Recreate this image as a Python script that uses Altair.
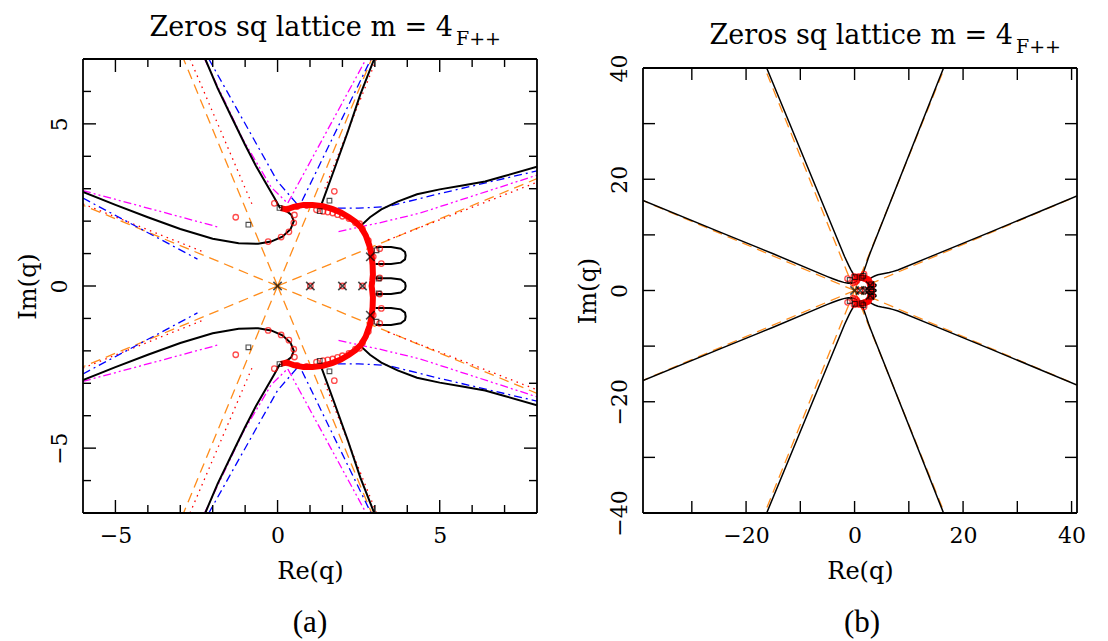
import altair as alt
import pandas as pd

FONT = "DejaVu Serif"

# ---------------- panel (a) data: curves ----------------
# exact limiting curves (black)
EX_TL_X = [-2.23, -1.85, -1.39, -1.00, -0.67, -0.35, -0.10, 0.08]
EX_TL_YU = [7.0, 6.1, 5.15, 4.35, 3.71, 3.15, 2.72, 2.40]
EX_TL_YL = [-7.0, -6.1, -5.15, -4.35, -3.71, -3.15, -2.72, -2.40]
EX_L_X = [-6.0, -5.0, -4.0, -3.0, -2.0, -1.2, -0.6, -0.2, 0.15, 0.40, 0.50, 0.42, 0.25]
EX_L_YU = [2.90, 2.50, 2.12, 1.76, 1.46, 1.32, 1.30, 1.37, 1.52, 1.75, 2.00, 2.20, 2.33]
EX_L_YL = [-2.90, -2.50, -2.12, -1.76, -1.46, -1.32, -1.30, -1.37, -1.52, -1.75, -2.00, -2.20, -2.33]
EX_TR_X = [2.98, 2.55, 2.16, 1.75, 1.34]
EX_TR_YU = [7.0, 5.9, 4.74, 3.6, 2.48]
EX_TR_YL = [-7.0, -5.9, -4.74, -3.6, -2.48]
EX_R_X = [2.58, 2.85, 3.2, 3.7, 4.3, 5.0, 5.7, 6.4, 7.0, 8.0]
EX_R_YU = [1.87, 2.12, 2.36, 2.6, 2.83, 2.98, 3.1, 3.22, 3.39, 3.68]
EX_R_YL = [-1.87, -2.12, -2.36, -2.6, -2.83, -2.98, -3.1, -3.22, -3.39, -3.68]
FG_X = [3.02, 3.50, 3.80, 3.93, 3.95, 3.93, 3.80, 3.50, 3.02]
FG1_Y = [1.20, 1.20, 1.15, 1.05, 0.94, 0.82, 0.72, 0.68, 0.68]
FG2_Y = [0.24, 0.24, 0.20, 0.10, 0.00, -0.10, -0.20, -0.25, -0.25]
FG3_Y = [-0.68, -0.68, -0.72, -0.82, -0.94, -1.05, -1.15, -1.20, -1.20]

# thick red arc of accumulated zeros
ARC_X = [0.10, 0.27, 0.50, 0.80, 1.08, 1.40, 1.70, 1.95, 2.20, 2.40, 2.58, 2.72, 2.83, 2.90, 2.93, 2.94, 2.92, 2.90,
         2.92, 2.94, 2.93, 2.90, 2.83, 2.72, 2.58, 2.40, 2.20, 1.95, 1.70, 1.40, 1.08, 0.80, 0.50, 0.27, 0.10]
ARC_Y = [2.40, 2.36, 2.44, 2.50, 2.50, 2.46, 2.37, 2.27, 2.12, 1.98, 1.80, 1.56, 1.25, 0.95, 0.65, 0.35, 0.15, 0.00,
         -0.15, -0.35, -0.65, -0.95, -1.25, -1.56, -1.80, -1.98, -2.12, -2.27, -2.37, -2.46, -2.50, -2.50, -2.44, -2.36, -2.40]

# approximations: blue dash-dot
BL_L_X = [-6.0, -2.47]
BL_L_YU = [2.71, 0.83]
BL_L_YL = [-2.71, -0.83]
BL_V_X = [-2.12, 0.0, 0.67, 2.88]
BL_V_YU = [7.0, 3.22, 2.45, 7.0]
BL_V_YL = [-7.0, -3.22, -2.45, -7.0]
BL_R_X = [1.3, 2.5, 3.4, 5.0, 8.0]
BL_R_YU = [2.40, 2.40, 2.45, 2.85, 3.55]
BL_R_YL = [-2.40, -2.40, -2.45, -2.85, -3.55]
# magenta dash-dot-dot
MG_L_X = [-6.0, -1.8]
MG_L_YU = [2.94, 1.81]
MG_L_YL = [-2.94, -1.81]
MG_V_X = [-2.25, -1.08, -0.2, 0.31, 2.73]
MG_V_YU = [7.0, 4.54, 3.05, 2.55, 7.0]
MG_V_YL = [-7.0, -4.54, -3.05, -2.55, -7.0]
MG_R_X = [1.88, 3.15, 4.4, 8.0]
MG_R_YU = [1.68, 1.95, 2.25, 3.42]
MG_R_YL = [-1.68, -1.95, -2.25, -3.42]
# red dotted
RD_L_X = [-6.0, -2.26]
RD_L_YU = [2.53, 1.04]
RD_L_YL = [-2.53, -1.04]
RD_TL_X = [-2.7, -0.77]
RD_TL_YU = [7.0, 2.48]
RD_TL_YL = [-7.0, -2.48]
RD_TR_X = [3.05, 1.44]
RD_TR_YU = [7.0, 2.96]
RD_TR_YL = [-7.0, -2.96]
RD_R_X = [3.4, 8.0]
RD_R_YU = [1.42, 3.2]
RD_R_YL = [-1.42, -3.2]
# orange dashed rays from the origin (end points)
OR_A_X = [-6.0, -2.9, 2.9, 8.0]
OR_A_YU = [2.49, 7.0, 7.0, 3.31]
OR_A_YL = [-2.49, -7.0, -7.0, -3.31]

# markers
RC_X = [-1.29, -0.10, 0.52, 0.50, 0.35, 0.11, -0.29, 1.75, 2.53, 3.15, 3.20, 3.15, 0.30, 0.60, 0.90, 1.20,
        1.40, 1.55, 1.70, 1.85, 2.00, 2.20, 2.40, 2.62, 2.80, 2.90, 2.95]
RC_YU = [2.12, 2.55, 2.19, 1.95, 1.67, 1.51, 1.37, 2.92, 1.92, 1.15, 0.69, 0.25, 2.37, 2.45, 2.48, 2.35,
         2.30, 2.28, 2.25, 2.20, 2.15, 2.08, 1.95, 1.75, 1.40, 1.10, 0.90]
RC_YL = [-2.12, -2.55, -2.19, -1.95, -1.67, -1.51, -1.37, -2.92, -1.92, -1.15, -0.69, -0.25, -2.37, -2.45, -2.48, -2.35,
         -2.30, -2.28, -2.25, -2.20, -2.15, -2.08, -1.95, -1.75, -1.40, -1.10, -0.90]
RC0_X = [1.01, 2.0, 2.62]
RC0_Y = [0.0, 0.0, 0.0]
SQ_X = [-0.90, 0.06, 1.30, 1.60, 3.05, 3.12]
SQ_YU = [1.89, 2.41, 2.31, 2.63, 1.10, 0.23]
SQ_YL = [-1.89, -2.41, -2.31, -2.63, -1.10, -0.23]
CR_X = [0.0, 1.01, 2.0, 2.62, 2.86, 2.86]
CR_Y = [0.0, 0.0, 0.0, 0.0, 0.9, -0.9]

# ---------------- panel (b): far parts of the branches ----------------
B_TL_X = [-16.2]
B_TL_YU = [40.0]
B_TL_YL = [-40.0]
B_TR_X = [16.4]
B_TR_YU = [40.0]
B_TR_YL = [-40.0]
B_L_X = [-39.0, -24.8, -15.0]
B_L_YU = [16.2, 10.5, 6.6]
B_L_YL = [-16.2, -10.5, -6.6]
B_R_X = [14.0, 25.0, 41.0]
B_R_YU = [6.1, 10.5, 17.0]
B_R_YL = [-6.1, -10.5, -17.0]
OR_B_X = [-39.0, -16.57, 16.57, 41.0]
OR_B_YU = [16.15, 40.0, 40.0, 16.98]
OR_B_YL = [-16.15, -40.0, -40.0, -16.98]

# axes extents, ticks and labels
A_XDOM = [-6, 8]
A_YDOM = [-7, 7]
B_XDOM = [-39, 41]
B_YDOM = [-40, 40]
A_TICK_MAJOR = [-5, 0, 5]
A_TICK_MINOR_X = [-4, -3, -2, -1, 1, 2, 3, 4, 6, 7]
A_TICK_MINOR_Y = [-6, -4, -3, -2, -1, 1, 2, 3, 4, 6]
B_TICK_X = [-30, -20, -10, 0, 10, 20, 30, 40]
B_TICK_Y = [-30, -20, -10, 0, 10, 20, 30]
B_LABEL_X = [-20, 0, 20, 40]
B_LABEL_Y = [-40, -20, 0, 20, 40]

TITLE = "Zeros sq lattice m = 4"
SUB = "F++"


def paths(*items):
    rows = []
    for name, xs, ys in items:
        for i, (a, b) in enumerate(zip(xs, ys)):
            rows.append({"id": name, "o": i, "x": a, "y": b})
    return pd.DataFrame(rows)


def rays(xs, yu, yl):
    items = []
    for k, (a, b) in enumerate(zip(xs, yu)):
        items.append((f"u{k}", [0.0, a], [0.0, b]))
    for k, (a, b) in enumerate(zip(xs, yl)):
        items.append((f"l{k}", [0.0, a], [0.0, b]))
    return paths(*items)


def make_xy(xdom, ydom, xvals, yvals, yrange=None):
    X = alt.X("x:Q", scale=alt.Scale(domain=xdom, nice=False, zero=False),
              axis=alt.Axis(values=xvals, title="Re(q)", ticks=False, domain=False, grid=False, tickSize=0,
                            labelFont=FONT, labelFontSize=22, labelPadding=12, labelColor="black",
                            labelFlush=False, labelOverlap=False, labelBaseline="top",
                            titleFont=FONT, titleFontSize=24, titleFontWeight="normal",
                            titleColor="black", titlePadding=13))
    ysc = alt.Scale(domain=ydom, nice=False, zero=False)
    if yrange is not None:
        ysc = alt.Scale(domain=ydom, nice=False, zero=False, range=yrange)
    Y = alt.Y("y:Q", scale=ysc,
              axis=alt.Axis(values=yvals, title="Im(q)", ticks=False, domain=False, grid=False, tickSize=0,
                            labelFont=FONT, labelFontSize=22, labelPadding=12, labelColor="black",
                            labelFlush=False, labelOverlap=False, labelAngle=270,
                            labelAlign="center", labelBaseline="bottom",
                            titleFont=FONT, titleFontSize=24, titleFontWeight="normal",
                            titleColor="black", titlePadding=8))
    return X, Y


def line_layer(df, X, Y, color, width, dash=None):
    kw = dict(color=color, strokeWidth=width, clip=True)
    if dash:
        kw["strokeDash"] = dash
    return alt.Chart(df).mark_line(**kw).encode(x=X, y=Y, detail="id:N", order="o:Q")


def frame_layers(X, Y, xdom, ydom):
    h = pd.DataFrame({"x": [xdom[0], xdom[0]], "x2": [xdom[1], xdom[1]], "y": [ydom[0], ydom[1]]})
    v = pd.DataFrame({"x": [xdom[0], xdom[1]], "y": [ydom[0], ydom[0]], "y2": [ydom[1], ydom[1]]})
    return [
        alt.Chart(h).mark_rule(color="black", strokeWidth=1.8).encode(x=X, x2="x2:Q", y=Y),
        alt.Chart(v).mark_rule(color="black", strokeWidth=1.8).encode(x=X, y=Y, y2="y2:Q"),
    ]


def tick_layers(X, Y, W, top, bottom, xsets, ysets):
    out = []
    for vals, L in xsets:
        d = pd.DataFrame({"x": vals})
        out.append(alt.Chart(d).mark_rule(color="black", strokeWidth=1.4).encode(
            x=X, y=alt.value(bottom), y2=alt.value(bottom - L)))
        out.append(alt.Chart(d).mark_rule(color="black", strokeWidth=1.4).encode(
            x=X, y=alt.value(top), y2=alt.value(top + L)))
    for vals, L in ysets:
        d = pd.DataFrame({"y": vals})
        out.append(alt.Chart(d).mark_rule(color="black", strokeWidth=1.4).encode(
            y=Y, x=alt.value(0), x2=alt.value(L)))
        out.append(alt.Chart(d).mark_rule(color="black", strokeWidth=1.4).encode(
            y=Y, x=alt.value(W), x2=alt.value(W - L)))
    return out


def text_layer(s, x, y, size, font=FONT, align="left"):
    return alt.Chart(pd.DataFrame({"t": [s]})).mark_text(
        font=font, fontSize=size, align=align, baseline="alphabetic", color="black"
    ).encode(text="t:N", x=alt.value(x), y=alt.value(y))


def marker_layers(X, Y, arc_w):
    circ = pd.DataFrame({"x": RC_X + RC_X + RC0_X, "y": RC_YU + RC_YL + RC0_Y})
    sq = pd.DataFrame({"x": SQ_X + SQ_X, "y": SQ_YU + SQ_YL})
    cr = pd.DataFrame({"x": CR_X, "y": CR_Y})
    return [
        line_layer(paths(("arc", ARC_X, ARC_Y)), X, Y, "#ff0000", arc_w),
        alt.Chart(circ).mark_point(shape="circle", filled=False, color="#ff0000", size=30,
                                   strokeWidth=1.3).encode(x=X, y=Y),
        alt.Chart(sq).mark_point(shape="square", filled=False, color="black", size=22,
                                 strokeWidth=1.1).encode(x=X, y=Y),
        alt.Chart(cr).mark_point(shape="M-1,-1L1,1M-1,1L1,-1", filled=False, color="black", size=70,
                                 strokeWidth=1.6).encode(x=X, y=Y),
    ]


ORANGE = "#ff8c1a"

# ---------------- panel (a) ----------------
WA, HA = 454, 454
XA, YA = make_xy(A_XDOM, A_YDOM, A_TICK_MAJOR, A_TICK_MAJOR)

exact_a = paths(
    ("tlu", EX_TL_X, EX_TL_YU), ("tll", EX_TL_X, EX_TL_YL),
    ("lu", EX_L_X, EX_L_YU), ("ll", EX_L_X, EX_L_YL),
    ("tru", EX_TR_X, EX_TR_YU), ("trl", EX_TR_X, EX_TR_YL),
    ("ru", EX_R_X, EX_R_YU), ("rl", EX_R_X, EX_R_YL),
    ("f1", FG_X, FG1_Y), ("f2", FG_X, FG2_Y), ("f3", FG_X, FG3_Y),
)
blue_a = paths(("lu", BL_L_X, BL_L_YU), ("ll", BL_L_X, BL_L_YL),
               ("vu", BL_V_X, BL_V_YU), ("vl", BL_V_X, BL_V_YL),
               ("ru", BL_R_X, BL_R_YU), ("rl", BL_R_X, BL_R_YL))
mag_a = paths(("lu", MG_L_X, MG_L_YU), ("ll", MG_L_X, MG_L_YL),
              ("vu", MG_V_X, MG_V_YU), ("vl", MG_V_X, MG_V_YL),
              ("ru", MG_R_X, MG_R_YU), ("rl", MG_R_X, MG_R_YL))
red_a = paths(("lu", RD_L_X, RD_L_YU), ("ll", RD_L_X, RD_L_YL),
              ("tlu", RD_TL_X, RD_TL_YU), ("tll", RD_TL_X, RD_TL_YL),
              ("tru", RD_TR_X, RD_TR_YU), ("trl", RD_TR_X, RD_TR_YL),
              ("ru", RD_R_X, RD_R_YU), ("rl", RD_R_X, RD_R_YL))
orange_a = rays(OR_A_X, OR_A_YU, OR_A_YL)

layers_a = [
    line_layer(orange_a, XA, YA, ORANGE, 1.3, [10, 6]),
    line_layer(red_a, XA, YA, "#ff0000", 1.3, [1.5, 4.5]),
    line_layer(mag_a, XA, YA, "#ff00ff", 1.3, [8, 3, 2, 3, 2, 3]),
    line_layer(blue_a, XA, YA, "#0000ff", 1.3, [8, 4, 2, 4]),
    line_layer(exact_a, XA, YA, "black", 2.0),
] + marker_layers(XA, YA, 6) + frame_layers(XA, YA, A_XDOM, A_YDOM) + tick_layers(
    XA, YA, WA, 0, HA,
    [(A_TICK_MAJOR, 13), (A_TICK_MINOR_X, 8)],
    [(A_TICK_MAJOR, 13), (A_TICK_MINOR_Y, 8)],
) + [
    text_layer(TITLE, 370, -23, 27, align="right"),
    text_layer(SUB, 373, -14, 19),
    text_layer("(a)", 227, 573, 31, font="Liberation Serif", align="center"),
]
chart_a = alt.layer(*layers_a).properties(width=WA, height=HA)

# ---------------- panel (b) ----------------
WB, HB, TOPB = 434, 454, 9
XB, YB = make_xy(B_XDOM, B_YDOM, B_LABEL_X, B_LABEL_Y, yrange=[HB, TOPB])

exact_b = paths(
    ("tlu", B_TL_X + EX_TL_X, B_TL_YU + EX_TL_YU), ("tll", B_TL_X + EX_TL_X, B_TL_YL + EX_TL_YL),
    ("lu", B_L_X + EX_L_X, B_L_YU + EX_L_YU), ("ll", B_L_X + EX_L_X, B_L_YL + EX_L_YL),
    ("tru", B_TR_X + EX_TR_X, B_TR_YU + EX_TR_YU), ("trl", B_TR_X + EX_TR_X, B_TR_YL + EX_TR_YL),
    ("ru", EX_R_X + B_R_X, EX_R_YU + B_R_YU), ("rl", EX_R_X + B_R_X, EX_R_YL + B_R_YL),
    ("f1", FG_X, FG1_Y), ("f2", FG_X, FG2_Y), ("f3", FG_X, FG3_Y),
)
orange_b = rays(OR_B_X, OR_B_YU, OR_B_YL)

layers_b = [
    line_layer(orange_b, XB, YB, ORANGE, 1.3, [10, 6]),
    line_layer(exact_b, XB, YB, "black", 1.5),
] + marker_layers(XB, YB, 5) + frame_layers(XB, YB, B_XDOM, B_YDOM) + tick_layers(
    XB, YB, WB, TOPB, HB, [(B_TICK_X, 12)], [(B_TICK_Y, 12)]
) + [
    text_layer(TITLE, 370, -15, 27, align="right"),
    text_layer(SUB, 373, -6, 19),
    text_layer("(b)", 219, 573, 31, font="Liberation Serif", align="center"),
]
chart_b = alt.layer(*layers_b).properties(width=WB, height=HB)

chart = alt.hconcat(chart_a, chart_b, spacing=36).properties(
    padding={"left": 7, "top": 5, "right": 0, "bottom": 0}
).configure(background="white").configure_view(stroke="transparent")

chart.save("out.html", embed_options={"renderer": "svg", "actions": False})
